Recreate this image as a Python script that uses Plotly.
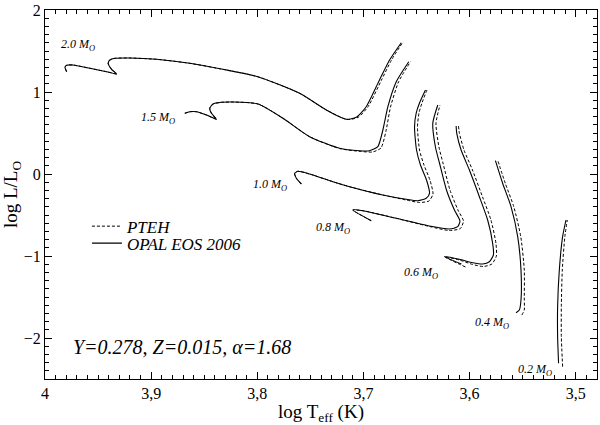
import plotly.graph_objects as go

# ---- OPAL EOS 2006 (solid) and PTEH (dashed) tracks: log Teff, log L/Lsun ----
opal_teff_20 = [3.9796, 3.9812, 3.9796, 3.9737, 3.9577, 3.9420, 3.9325, 3.9373, 3.9405, 3.9389, 3.9341, 3.9200,
                3.8949, 3.8636, 3.8326, 3.7996, 3.7601, 3.7350, 3.7162, 3.7068, 3.6974, 3.6849, 3.6754, 3.6644]
opal_logl_20 = [1.2476, 1.3012, 1.3256, 1.3293, 1.2890, 1.2476, 1.2195, 1.2768, 1.3500, 1.3902, 1.4110, 1.4146,
                1.3988, 1.3500, 1.2768, 1.1866, 0.9841, 0.7805, 0.6671, 0.6915, 0.8207, 1.1463, 1.3902, 1.6012]
pteh_teff_20 = [3.9796, 3.9812, 3.9796, 3.9737, 3.9577, 3.9420, 3.9325, 3.9373, 3.9405, 3.9389, 3.9341, 3.9200,
                3.8949, 3.8636, 3.8326, 3.7996, 3.7601, 3.7350, 3.7155, 3.7051, 3.6957, 3.6830, 3.6736, 3.6632]
pteh_logl_20 = [1.2476, 1.3012, 1.3256, 1.3293, 1.2890, 1.2476, 1.2195, 1.2768, 1.3500, 1.3902, 1.4110, 1.4146,
                1.3988, 1.3500, 1.2768, 1.1866, 0.9841, 0.7805, 0.6650, 0.6900, 0.8207, 1.1463, 1.3902, 1.6012]

opal_teff_15 = [3.8683, 3.8636, 3.8573, 3.8479, 3.8385, 3.8432, 3.8448, 3.8417, 3.8338, 3.8229, 3.7993, 3.7758,
                3.7507, 3.7225, 3.7037, 3.6943, 3.6865, 3.6817, 3.6770, 3.6691, 3.6573]
opal_logl_15 = [0.7402, 0.7598, 0.7598, 0.7195, 0.6671, 0.7402, 0.8012, 0.8537, 0.8744, 0.8780, 0.8537, 0.6793,
                0.4549, 0.3134, 0.2841, 0.2841, 0.3329, 0.5366, 0.8207, 1.1256, 1.3695]
pteh_teff_15 = [3.8683, 3.8636, 3.8573, 3.8479, 3.8385, 3.8432, 3.8448, 3.8417, 3.8338, 3.8229, 3.7993, 3.7758,
                3.7507, 3.7225, 3.7019, 3.6915, 3.6835, 3.6788, 3.6745, 3.6670, 3.6557]
pteh_logl_15 = [0.7402, 0.7598, 0.7598, 0.7195, 0.6671, 0.7402, 0.8012, 0.8537, 0.8744, 0.8780, 0.8537, 0.6793,
                0.4549, 0.3100, 0.2744, 0.2683, 0.3171, 0.5244, 0.8171, 1.1220, 1.3695]

opal_teff_10 = [3.7585, 3.7632, 3.7648, 3.7617, 3.7507, 3.7288, 3.7131, 3.6818, 3.6597, 3.6488, 3.6409, 3.6378,
                3.6406, 3.6463, 3.6500, 3.6519, 3.6503, 3.6472, 3.6416]
opal_logl_10 = [-0.1220, -0.0524, 0.0085, 0.0329, 0.0000, -0.0939, -0.1549, -0.2561, -0.3085, -0.3256, -0.2963,
                -0.2354, -0.0732, 0.1098, 0.2927, 0.5732, 0.7439, 0.8659, 1.0244]
pteh_teff_10 = [3.7585, 3.7632, 3.7648, 3.7617, 3.7507, 3.7288, 3.7131, 3.6818, 3.6597, 3.6472, 3.6383, 3.6345,
                3.6374, 3.6430, 3.6472, 3.6491, 3.6477, 3.6449, 3.6402]
pteh_logl_10 = [-0.1220, -0.0524, 0.0085, 0.0329, 0.0000, -0.0939, -0.1549, -0.2561, -0.3171, -0.3476, -0.3293,
                -0.2439, -0.0732, 0.1098, 0.2927, 0.5732, 0.7439, 0.8659, 1.0244]

opal_teff_08 = [3.6927, 3.7100, 3.7006, 3.6691, 3.6378, 3.6190, 3.6112, 3.6091, 3.6143, 3.6218, 3.6284, 3.6322,
                3.6347, 3.6300]
opal_logl_08 = [-0.5695, -0.4390, -0.4476, -0.5402, -0.6341, -0.6707, -0.6427, -0.5732, -0.4390, -0.1951, 0.1341,
                0.3293, 0.6183, 0.8415]
pteh_teff_08 = [3.6927, 3.7100, 3.7006, 3.6691, 3.6378, 3.6190, 3.6087, 3.6058, 3.6110, 3.6185, 3.6251, 3.6289,
                3.6317, 3.6279]
pteh_logl_08 = [-0.5695, -0.4390, -0.4476, -0.5402, -0.6402, -0.6890, -0.6646, -0.5732, -0.4390, -0.1951, 0.1341,
                0.3293, 0.6183, 0.8415]

opal_teff_06 = [3.6077, 3.6237, 3.6096, 3.5971, 3.5877, 3.5814, 3.5776, 3.5783, 3.5830, 3.5908, 3.6002, 3.6080,
                3.6121, 3.6127]
opal_logl_06 = [-1.0976, -1.0085, -1.0402, -1.0817, -1.0976, -1.0695, -0.9878, -0.8451, -0.5610, -0.2768, 0.0488,
                0.2927, 0.4963, 0.5854]
pteh_teff_06 = [3.6039, 3.6237, 3.6096, 3.5971, 3.5870, 3.5790, 3.5748, 3.5752, 3.5799, 3.5879, 3.5973, 3.6053,
                3.6096, 3.6105]
pteh_logl_06 = [-1.1341, -1.0085, -1.0488, -1.1037, -1.1280, -1.0976, -1.0000, -0.8451, -0.5610, -0.2768, 0.0488,
                0.2927, 0.4963, 0.5854]

opal_teff_04 = [3.5563, 3.5532, 3.5516, 3.5516, 3.5547, 3.5610, 3.5689, 3.5757]
opal_logl_04 = [-1.6915, -1.6585, -1.5366, -1.1707, -0.7646, -0.3988, -0.1134, 0.1622]
pteh_teff_04 = [3.5508, 3.5485, 3.5485, 3.5485, 3.5518, 3.5584, 3.5664, 3.5734]
pteh_logl_04 = [-1.7200, -1.6585, -1.5366, -1.1707, -0.7646, -0.3988, -0.1134, 0.1622]

opal_teff_02 = [3.5162, 3.5171, 3.5171, 3.5155, 3.5124, 3.5092]
opal_logl_02 = [-2.3085, -1.9841, -1.6183, -1.1707, -0.7646, -0.5610]
pteh_teff_02 = [3.5124, 3.5136, 3.5136, 3.5127, 3.5103, 3.5080]
pteh_logl_02 = [-2.3500, -1.9841, -1.6183, -1.1707, -0.7646, -0.5610]

mass_labels = ["2.0", "1.5", "1.0", "0.8", "0.6", "0.4", "0.2"]
label_teff = [3.969, 3.894, 3.788, 3.729, 3.646, 3.579, 3.538]
label_logl = [1.573, 0.683, -0.134, -0.659, -1.207, -1.817, -2.390]

x_ticks = [4.0, 3.9, 3.8, 3.7, 3.6, 3.5]
y_ticks = [2, 1, 0, -1, -2]

SERIF = "Liberation Serif"

opal_tracks = [(opal_teff_20, opal_logl_20), (opal_teff_15, opal_logl_15), (opal_teff_10, opal_logl_10),
               (opal_teff_08, opal_logl_08), (opal_teff_06, opal_logl_06), (opal_teff_04, opal_logl_04),
               (opal_teff_02, opal_logl_02)]
pteh_tracks = [(pteh_teff_20, pteh_logl_20), (pteh_teff_15, pteh_logl_15), (pteh_teff_10, pteh_logl_10),
               (pteh_teff_08, pteh_logl_08), (pteh_teff_06, pteh_logl_06), (pteh_teff_04, pteh_logl_04),
               (pteh_teff_02, pteh_logl_02)]

fig = go.Figure()
for i, (tx, ly) in enumerate(pteh_tracks):
    fig.add_trace(go.Scatter(x=tx, y=ly, mode="lines", name="PTEH", legend="legend",
                             showlegend=(i == 0),
                             line=dict(color="black", width=1, dash="3px,2px", shape="spline", smoothing=0.6)))
for i, (tx, ly) in enumerate(opal_tracks):
    fig.add_trace(go.Scatter(x=tx, y=ly, mode="lines", name="OPAL EOS 2006", legend="legend2",
                             showlegend=(i == 0),
                             line=dict(color="black", width=1.1, shape="spline", smoothing=0.6)))

for m, tx, ly in zip(mass_labels, label_teff, label_logl):
    fig.add_annotation(x=tx, y=ly, text=f"<i>{m} M<sub>O</sub></i>", showarrow=False,
                       font=dict(family=SERIF, size=12, color="black"))

fig.add_annotation(x=3.871, y=-2.11, text="<i>Y=0.278, Z=0.015, α=1.68</i>", showarrow=False,
                   font=dict(family=SERIF, size=20, color="black"))

axis_common = dict(showline=True, linecolor="black", linewidth=1, mirror="allticks", ticks="inside",
                   tickcolor="black", showgrid=False, zeroline=False, automargin=False,
                   tickfont=dict(family=SERIF, size=16, color="black"))

fig.update_xaxes(range=[4.0, 3.48], tickvals=x_ticks, ticklen=7,
                 minor=dict(dtick=0.01, ticks="inside", ticklen=4, tickcolor="black", tick0=4.0),
                 title=dict(text="log T<sub>eff</sub> (K)", font=dict(family=SERIF, size=19, color="black")),
                 **axis_common)
fig.update_yaxes(range=[-2.5, 2.0], tickvals=y_ticks, ticklen=7,
                 minor=dict(dtick=0.1, ticks="inside", ticklen=4, tickcolor="black", tick0=0),
                 title=dict(text="log L/L<sub>O</sub>", font=dict(family=SERIF, size=19, color="black")),
                 **axis_common)

legend_common = dict(xanchor="left", yanchor="middle", bgcolor="rgba(0,0,0,0)",
                     font=dict(family=SERIF, size=17, color="black", style="italic"), itemwidth=30)

fig.update_layout(
    width=600, height=425,
    margin=dict(l=45, r=3, t=10, b=46),
    paper_bgcolor="white", plot_bgcolor="white",
    separators=", ",
    showlegend=True,
    legend=dict(x=0.076, y=0.413, **legend_common),
    legend2=dict(x=0.076, y=0.367, **legend_common),
)

fig.write_html("out.html", config={"displayModeBar": False},
               post_script="document.body.style.margin='0px';document.body.style.overflow='hidden';")
